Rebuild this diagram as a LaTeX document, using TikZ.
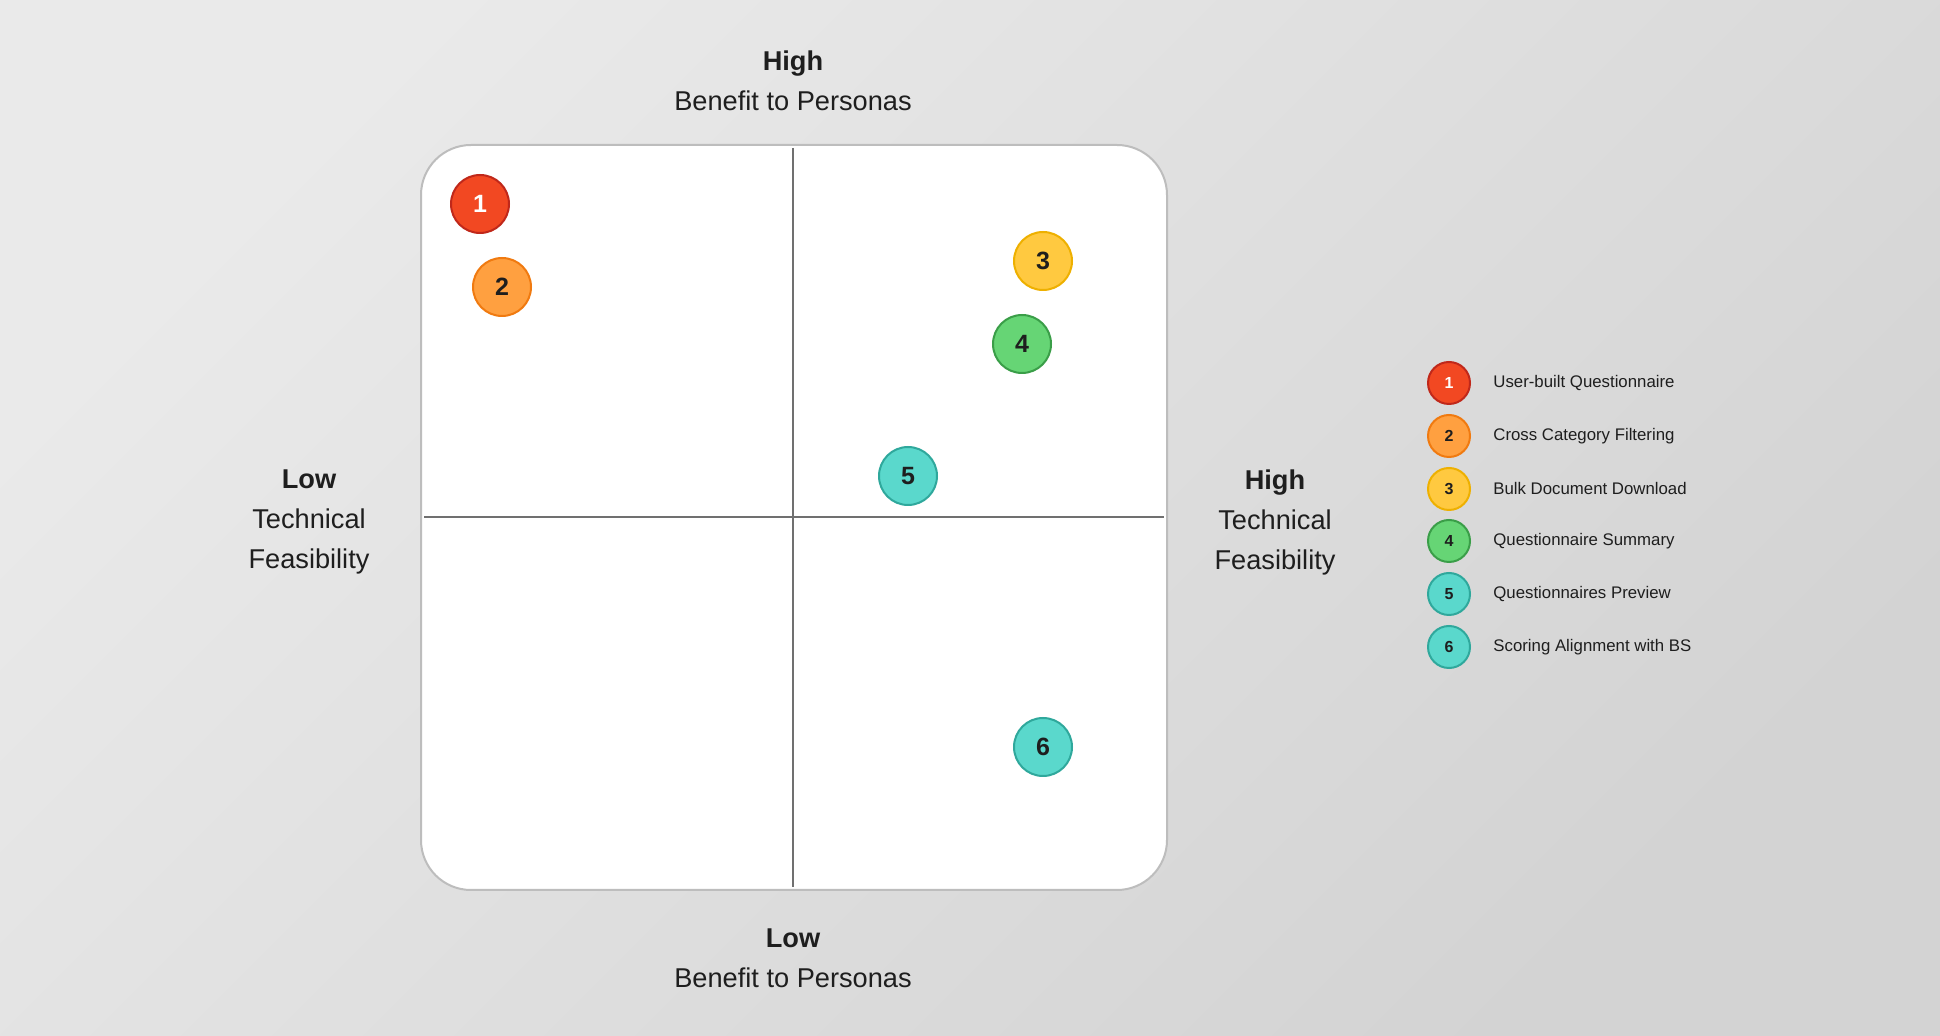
\documentclass[tikz,border=0pt]{standalone}
\usepackage{fontspec}
\setmainfont{Liberation Sans}
\usepackage{tikz}
\usepackage{xcolor}
\usetikzlibrary{
    calc,
    positioning
}

\definecolor{bgLight}{HTML}{EAEAEA}
\definecolor{bgDark}{HTML}{D3D3D3}
\definecolor{frameGray}{HTML}{BDBDBD}
\definecolor{axisGray}{HTML}{707070}
\definecolor{inkDark}{HTML}{1E1E1E}
\definecolor{redFill}{HTML}{F24822}
\definecolor{redLine}{HTML}{C0281A}
\definecolor{orangeFill}{HTML}{FFA040}
\definecolor{orangeLine}{HTML}{F07A10}
\definecolor{yellowFill}{HTML}{FFC940}
\definecolor{yellowLine}{HTML}{EEB000}
\definecolor{greenFill}{HTML}{66D575}
\definecolor{greenLine}{HTML}{3A9E48}
\definecolor{tealFill}{HTML}{5AD8CC}
\definecolor{tealLine}{HTML}{2FA89C}

\tikzset{
    dot/.style={circle, draw, line width=1pt, inner sep=0pt, minimum size=29pt,
        font=\bfseries\fontsize{12.5}{14}\selectfont, text=inkDark},
    legenddot/.style={circle, draw, line width=1pt, inner sep=0pt, minimum size=21pt,
        font=\bfseries\fontsize{8}{10}\selectfont, text=inkDark},
    legendtext/.style={anchor=west, inner sep=0pt, text=inkDark,
        font=\fontsize{8.4}{10}\selectfont},
    axislabel/.style={align=center, text=inkDark, inner sep=0pt,
        font=\fontsize{13.6}{20}\selectfont},
    red/.style={fill=redFill, draw=redLine, text=white},
    orange/.style={fill=orangeFill, draw=orangeLine},
    yellow/.style={fill=yellowFill, draw=yellowLine},
    green/.style={fill=greenFill, draw=greenLine},
    teal/.style={fill=tealFill, draw=tealLine}
}

\begin{document}
\begin{tikzpicture}[x=0.5pt, y=-0.5pt]
    \useasboundingbox (0, 0) rectangle (1940, 1036);
    \shade[top color=bgLight, bottom color=bgDark, shading angle=45] (0, 0) rectangle (1940, 1036);

    % matrix frame
    \draw[frameGray, line width=1pt, fill=white, rounded corners=25pt] (421, 145) rectangle (1167, 890);
    \coordinate (top) at (793, 148);
    \coordinate (bottom) at (793, 887);
    \coordinate (left) at (424, 517);
    \coordinate (right) at (1164, 517);
    \draw[axisGray, line width=1pt] (top) -- (bottom);
    \draw[axisGray, line width=1pt] (left) -- (right);

    % axis labels
    \node[axislabel] (highBenefit) at (793, 80.5) {\textbf{High}\\Benefit to Personas};
    \node[axislabel] (lowBenefit) at (793, 958.5) {\textbf{Low}\\Benefit to Personas};
    \node[axislabel] (lowFeas) at (309, 522) {\textbf{Low}\\Technical\\Feasibility};
    \node[axislabel] (highFeas) at (1275, 522) {\textbf{High}\\Technical\\Feasibility};

    % features on the matrix
    \node[dot, red] (p1) at (480, 204) {1};
    \node[dot, orange] (p2) at (502, 287) {2};
    \node[dot, yellow] (p3) at (1043, 261) {3};
    \node[dot, green] (p4) at (1022, 344) {4};
    \node[dot, teal] (p5) at (908, 476) {5};
    \node[dot, teal] (p6) at (1043, 747) {6};

    % legend
    \node[legenddot, red] (l1) at (1449, 383) {1};
    \node[legendtext, right=22pt of l1.center] (t1) {User-built Questionnaire};
    \node[legenddot, orange] (l2) at (1449, 436) {2};
    \node[legendtext, right=22pt of l2.center] (t2) {Cross Category Filtering};
    \node[legenddot, yellow] (l3) at (1449, 489) {3};
    \node[legendtext, right=22pt of l3.center] (t3) {Bulk Document Download};
    \node[legenddot, green] (l4) at (1449, 541) {4};
    \node[legendtext, right=22pt of l4.center] (t4) {Questionnaire Summary};
    \node[legenddot, teal] (l5) at (1449, 594) {5};
    \node[legendtext, right=22pt of l5.center] (t5) {Questionnaires Preview};
    \node[legenddot, teal] (l6) at (1449, 647) {6};
    \node[legendtext, right=22pt of l6.center] (t6) {Scoring Alignment with BS};
\end{tikzpicture}
\end{document}
